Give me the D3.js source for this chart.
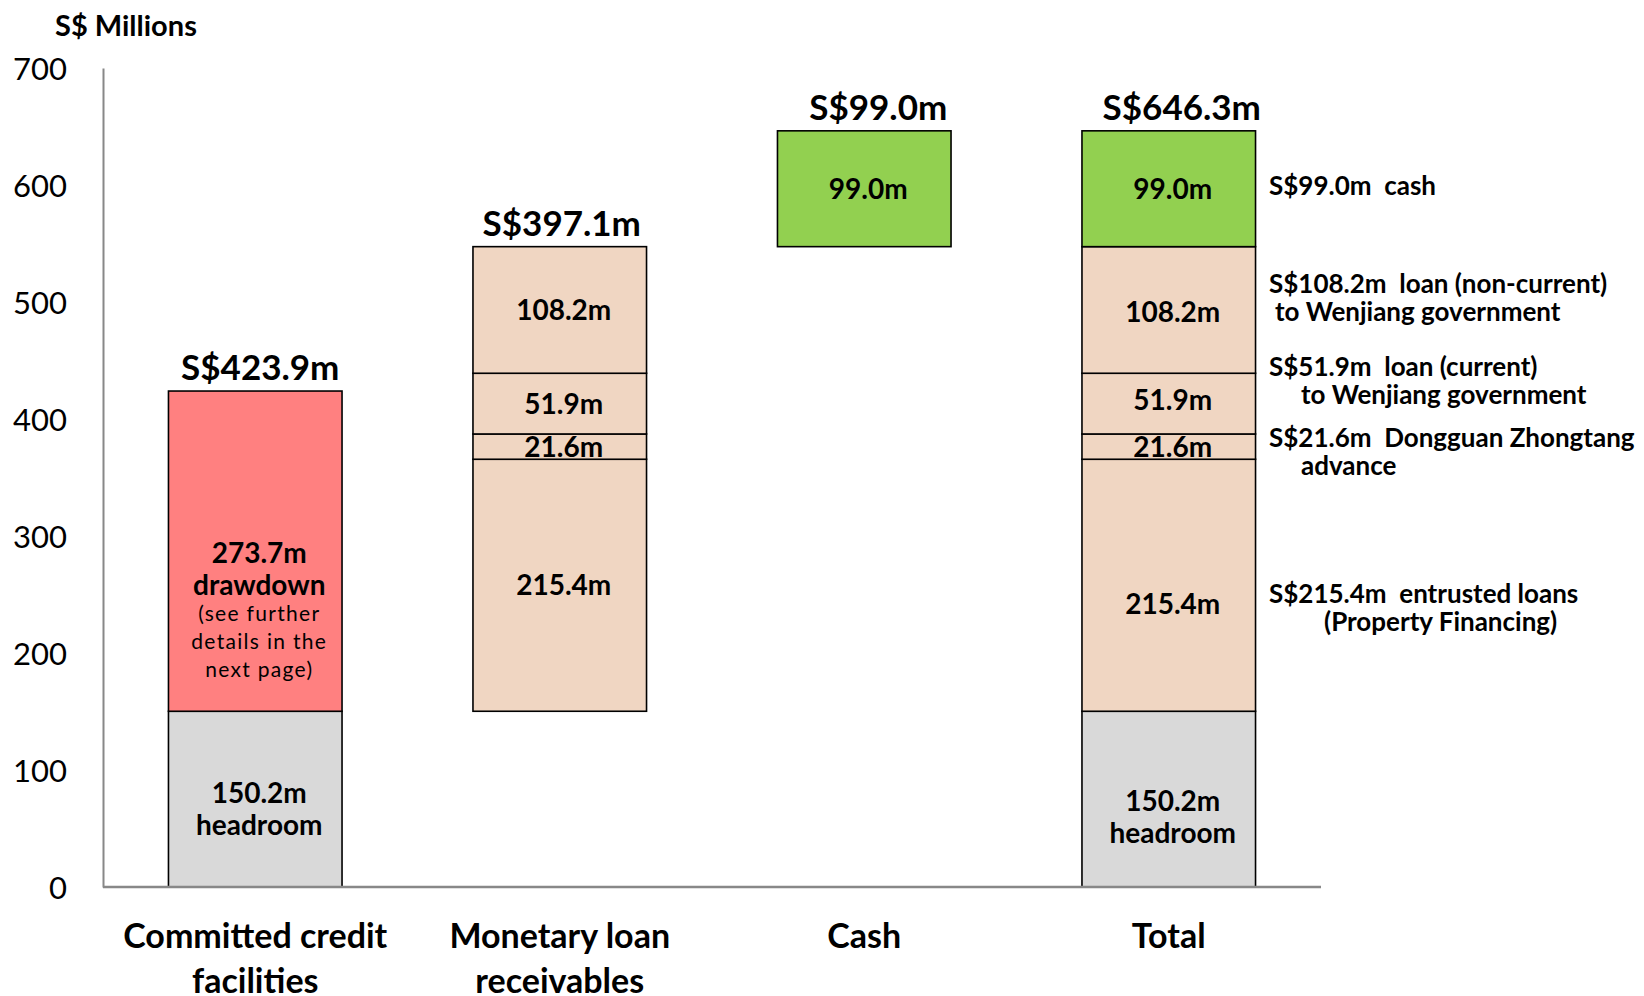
<!DOCTYPE html>
<html>
<head>
<meta charset="utf-8">
<script src="https://cdnjs.cloudflare.com/ajax/libs/d3/7.8.5/d3.min.js"></script>
<style>
  body { margin: 0; background: #fff; }
  svg text { font-family: Lato, "Open Sans", sans-serif; fill: #000; white-space: pre; }
</style>
</head>
<body>
<svg id="chart" width="1644" height="996"></svg>
<script>
// categories and series (S$ millions)
var categories = ["Committed credit facilities", "Monetary loan receivables", "Cash", "Total"];
var catLines = [["Committed credit", "facilities"], ["Monetary loan", "receivables"], ["Cash"], ["Total"]];
var seriesKeys = ["base", "headroom", "drawdown", "entrusted", "dongguan", "current", "noncurrent", "cash"];
var base       = [0, 150.2, 547.3, 0];
var headroom   = [150.2, 0, 0, 150.2];
var drawdown   = [273.7, 0, 0, 0];
var entrusted  = [0, 215.4, 0, 215.4];
var dongguan   = [0, 21.6, 0, 21.6];
var current    = [0, 51.9, 0, 51.9];
var noncurrent = [0, 108.2, 0, 108.2];
var cash       = [0, 0, 99.0, 99.0];
var totals     = ["S$423.9m", "S$397.1m", "S$99.0m", "S$646.3m"];
var yTicks     = [0, 100, 200, 300, 400, 500, 600, 700];

// annotations on the right of the Total bar
var notes = [
  { key: "cash",       lines: ["S$99.0m  cash"] },
  { key: "noncurrent", lines: ["S$108.2m  loan (non-current)", "to Wenjiang government"] },
  { key: "current",    lines: ["S$51.9m  loan (current)", "to Wenjiang government"] },
  { key: "dongguan",   lines: ["S$21.6m  Dongguan Zhongtang", "advance"] },
  { key: "entrusted",  lines: ["S$215.4m  entrusted loans", "(Property Financing)"] }
];

var colors = {
  headroom: "#d9d9d9", drawdown: "#ff8080", entrusted: "#f0d6c2",
  dongguan: "#f0d6c2", current: "#f0d6c2", noncurrent: "#f0d6c2", cash: "#92d050"
};

var table = categories.map(function(c, i) {
  return { cat: c, base: base[i], headroom: headroom[i], drawdown: drawdown[i],
           entrusted: entrusted[i], dongguan: dongguan[i], current: current[i],
           noncurrent: noncurrent[i], cash: cash[i] };
});

var svg = d3.select("#chart");
var mLeft = 103, mRight = 1321, mTop = 68, mBottom = 887;

var x = d3.scaleBand().domain(categories).range([mLeft, mRight]).paddingInner(0.43).paddingOuter(0.215);
var y = d3.scaleLinear().domain([0, 700]).range([mBottom, mTop]);

var stack = d3.stack().keys(seriesKeys)(table);

// bars
stack.forEach(function(layer) {
  if (layer.key === "base") return;
  svg.append("g").selectAll("rect")
    .data(layer.filter(function(d) { return d[1] - d[0] > 0; }))
    .enter().append("rect")
    .attr("x", function(d) { return x(d.data.cat); })
    .attr("width", x.bandwidth())
    .attr("y", function(d) { return y(d[1]); })
    .attr("height", function(d) { return y(d[0]) - y(d[1]); })
    .attr("fill", colors[layer.key])
    .attr("stroke", "#000")
    .attr("stroke-width", 1.6);
});

// axes
var yAxis = svg.append("g").attr("transform", "translate(" + mLeft + ",0)")
  .call(d3.axisLeft(y).tickValues(yTicks).tickSize(0).tickPadding(36));
yAxis.select(".domain").attr("stroke", "#888").attr("stroke-width", 2);
yAxis.selectAll("text").style("font-size", "31px").attr("dy", "0.36em");

svg.append("line").attr("x1", mLeft).attr("x2", mRight).attr("y1", mBottom).attr("y2", mBottom)
  .attr("stroke", "#888").attr("stroke-width", 2.5);

svg.append("text").attr("x", 55).attr("y", 36).style("font-size", "29px").style("font-weight", "bold")
  .text("S$ Millions");

// category labels
categories.forEach(function(c, i) {
  catLines[i].forEach(function(t, j) {
    svg.append("text").attr("x", x(c) + x.bandwidth() / 2).attr("y", 948 + j * 45)
      .attr("text-anchor", "middle").style("font-size", "34px").style("font-weight", "bold").text(t);
  });
});

// total labels above bars
var topNudge = [5, 2, 14, 13];
stack[stack.length - 1].forEach(function(d, i) {
  var topVal = d3.max(stack, function(l) { return l[i][1]; });
  svg.append("text").attr("x", x(categories[i]) + x.bandwidth() / 2 + topNudge[i])
    .attr("y", y(topVal) - 11).attr("text-anchor", "middle")
    .style("font-size", "35px").style("font-weight", "bold").text(totals[i]);
});

// inner segment labels (small vertical nudges for the Total bar)
var innerNudge = { "Total": { entrusted: 19, headroom: 8, noncurrent: 2, current: -4 } };
function fmt(v) { return v.toFixed(1) + "m"; }
stack.forEach(function(layer) {
  if (layer.key === "base") return;
  layer.forEach(function(d, i) {
    var v = d[1] - d[0];
    if (v <= 0) return;
    var nudge = (innerNudge[d.data.cat] || {})[layer.key] || 0;
    var cx = x(d.data.cat) + x.bandwidth() / 2 + 4;
    var cy = y((d[0] + d[1]) / 2) + nudge;
    var g = svg.append("g").attr("transform", "translate(" + cx + "," + cy + ")");
    var lines = [fmt(v)];
    var start = 0;
    if (layer.key === "headroom") { lines.push("headroom"); start = -6; }
    if (layer.key === "drawdown") { lines.push("drawdown"); start = 2; }
    lines.forEach(function(t, j) {
      g.append("text").attr("y", start + j * 32).attr("dy", "0.36em")
        .attr("text-anchor", "middle").style("font-size", "28px").style("font-weight", "bold").text(t);
    });
    if (layer.key === "drawdown") {
      ["(see further", "details in the", "next page)"].forEach(function(t, j) {
        g.append("text").attr("y", 62 + j * 28).attr("dy", "0.36em").attr("text-anchor", "middle")
          .style("font-size", "21px").style("letter-spacing", "1.3px").text(t);
      });
    }
  });
});

// right annotations
var noteY = { cash: 186, noncurrent: 298, current: 381, dongguan: 452, entrusted: 608 };
var noteIndent = { cash: 0, noncurrent: 6, current: 32, dongguan: 32, entrusted: 55 };
notes.forEach(function(n) {
  n.lines.forEach(function(t, j) {
    svg.append("text").attr("x", 1269 + (j > 0 ? noteIndent[n.key] : 0))
      .attr("y", noteY[n.key] + (j - (n.lines.length - 1) / 2) * 28)
      .attr("dy", "0.36em").style("font-size", "26px").style("font-weight", "bold").text(t);
  });
});
</script>
</body>
</html>
